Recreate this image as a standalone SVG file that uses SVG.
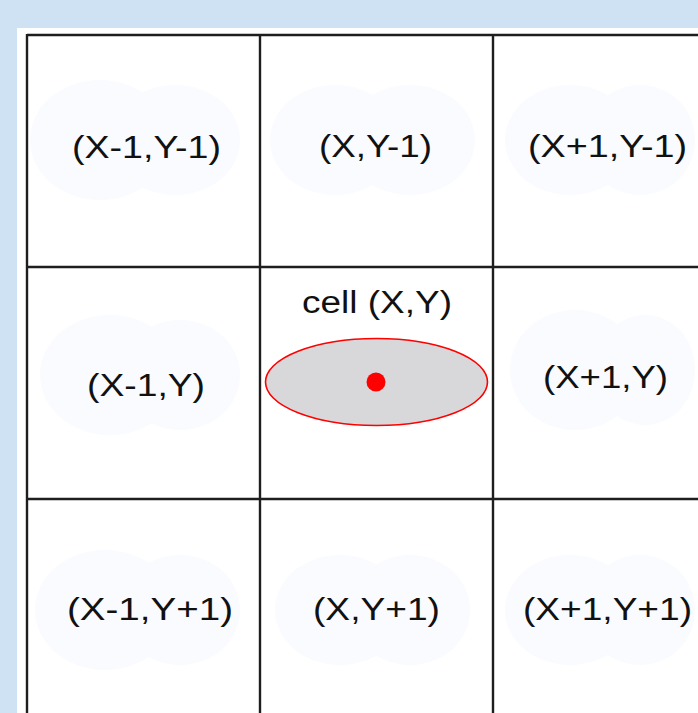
<svg xmlns="http://www.w3.org/2000/svg" width="698" height="713" viewBox="0 0 698 713">
<style>
.lbl{font-family:"Liberation Sans",Arial,sans-serif;font-size:31px;fill:#111}
.grid{stroke:#1e1e1e;stroke-width:2.4;fill:none}
.blob{fill:#fafbfe}
</style>
<rect x="0" y="0" width="698" height="713" fill="#cfe2f3"/>
<rect x="17" y="28" width="681" height="685" fill="#ffffff"/>
<g id="blobs">
<ellipse class="blob" cx="100" cy="140" rx="70" ry="60"/><ellipse class="blob" cx="175" cy="140" rx="65" ry="55"/>
<ellipse class="blob" cx="335" cy="140" rx="65" ry="55"/><ellipse class="blob" cx="410" cy="140" rx="65" ry="55"/>
<ellipse class="blob" cx="570" cy="140" rx="65" ry="55"/><ellipse class="blob" cx="640" cy="140" rx="55" ry="55"/>
<ellipse class="blob" cx="110" cy="375" rx="70" ry="60"/><ellipse class="blob" cx="180" cy="375" rx="60" ry="55"/>
<ellipse class="blob" cx="575" cy="370" rx="65" ry="60"/><ellipse class="blob" cx="645" cy="370" rx="50" ry="55"/>
<ellipse class="blob" cx="105" cy="610" rx="70" ry="60"/><ellipse class="blob" cx="180" cy="610" rx="60" ry="55"/>
<ellipse class="blob" cx="340" cy="610" rx="65" ry="55"/><ellipse class="blob" cx="410" cy="610" rx="60" ry="55"/>
<ellipse class="blob" cx="570" cy="610" rx="65" ry="55"/><ellipse class="blob" cx="640" cy="610" rx="55" ry="55"/>
</g>
<g id="connectors">
<line class="grid" x1="27" y1="35" x2="698" y2="35"/>
<line class="grid" x1="27" y1="267" x2="698" y2="267"/>
<line class="grid" x1="27" y1="499" x2="698" y2="499"/>
<line class="grid" x1="27" y1="34" x2="27" y2="713"/>
<line class="grid" x1="260" y1="34" x2="260" y2="713"/>
<line class="grid" x1="493" y1="34" x2="493" y2="713"/>
</g>
<g id="n-x-1-y-1"><text class="lbl" x="72" y="158" textLength="149" lengthAdjust="spacingAndGlyphs">(X-1,Y-1)</text></g>
<g id="n-x-y-1"><text class="lbl" x="319" y="157" textLength="113" lengthAdjust="spacingAndGlyphs">(X,Y-1)</text></g>
<g id="n-x1-y-1"><text class="lbl" x="528" y="157" textLength="159" lengthAdjust="spacingAndGlyphs">(X+1,Y-1)</text></g>
<g id="n-x-1-y"><text class="lbl" x="87" y="396" textLength="118" lengthAdjust="spacingAndGlyphs">(X-1,Y)</text></g>
<g id="n-cell">
<text class="lbl" x="302" y="313" textLength="150" lengthAdjust="spacingAndGlyphs">cell (X,Y)</text>
<ellipse cx="376.5" cy="382" rx="111" ry="43.5" fill="#d8d8da" stroke="#ff0000" stroke-width="1.6"/>
<circle cx="376" cy="382" r="9.5" fill="#ff0000"/>
</g>
<g id="n-x1-y"><text class="lbl" x="543" y="388" textLength="125" lengthAdjust="spacingAndGlyphs">(X+1,Y)</text></g>
<g id="n-x-1-y1"><text class="lbl" x="67" y="620" textLength="166" lengthAdjust="spacingAndGlyphs">(X-1,Y+1)</text></g>
<g id="n-x-y1"><text class="lbl" x="313" y="620" textLength="127" lengthAdjust="spacingAndGlyphs">(X,Y+1)</text></g>
<g id="n-x1-y1"><text class="lbl" x="523" y="620" textLength="169" lengthAdjust="spacingAndGlyphs">(X+1,Y+1)</text></g>
</svg>
